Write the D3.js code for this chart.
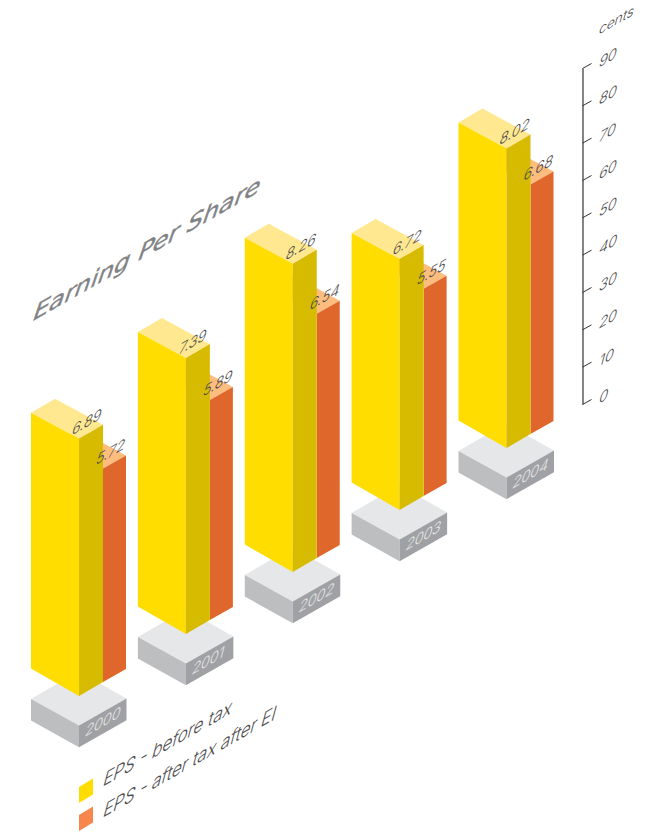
<!DOCTYPE html>
<html>
<head>
<meta charset="utf-8">
<script src="https://cdnjs.cloudflare.com/ajax/libs/d3/7.8.5/d3.min.js"></script>
<style>
  html, body { margin: 0; padding: 0; background: #fff; }
  svg { display: block; }
</style>
</head>
<body>
<div id="chart"></div>
<script>
// Earnings per share by year
const years = ["2000", "2001", "2002", "2003", "2004"];
const epsBeforeTax = [6.89, 7.39, 8.26, 6.72, 8.02];
const epsAfterTax = [5.72, 5.89, 6.54, 5.55, 6.68];
const axisTicks = [0, 10, 20, 30, 40, 50, 60, 70, 80, 90];
const legendLabels = ["EPS - before tax", "EPS - after tax after EI"];

const width = 668, height = 836;
const svg = d3.select("#chart").append("svg").attr("width", width).attr("height", height);

// Year positions run diagonally across the isometric floor
const frontX = d3.scalePoint().domain(years).range([79, 506.5]);
const frontY = d3.scalePoint().domain(years).range([696, 448]);
// Vertical scale is in cents; labelled values are in tens of cents
const yScale = d3.scaleLinear().domain([0, 90]).range([404, 68]);
const rise = cents => yScale(0) - yScale(cents);

const colors = {
  yellowFront: "#ffdd00", yellowSide: "#d7bb00", yellowTop: "#ffe88f",
  orangeSide: "#e0672c", orangeTop: "#fdbd7e", orangeKey: "#f6864b",
  plinthTop: "#e6e7e8", plinthLeft: "#bcbec0", plinthRight: "#a0a1a4",
  ink: "#4a4a4c", title: "#808285"
};

const poly = (g, pts, fill) => g.append("polygon")
  .attr("points", pts.map(p => p.join(",")).join(" ")).attr("fill", fill);

// Isometric text: baseline climbs to the right, uprights lean forward
const isoMatrix = (x, y, lean, stretch = 1) =>
  `matrix(${0.868 * stretch},${-0.496 * stretch},${-lean},0.97,${x},${y})`;
const isoText = (g, x, y, str, { size = 16.5, fill = colors.ink, lean = 0.26, stretch = 1, family = "Inter", weight = 300, stroke = 0 } = {}) =>
  g.append("text")
    .attr("transform", isoMatrix(x, y, lean, stretch))
    .attr("font-family", family).attr("font-weight", weight)
    .attr("font-size", size).attr("fill", fill)
    .attr("stroke", stroke ? fill : "none").attr("stroke-width", stroke)
    .text(str);

const depth = [-48, -27.5], topDepth = [-48, -26], sideA = [24, -14], sideB = [23, -13];

years.forEach((year, i) => {
  const g = svg.append("g");
  const x = frontX(year), y = frontY(year);

  // Plinth carrying the year
  const px = x, py = y + 29.5, ph = 21.7;
  poly(g, [[px, py], [px + 47.5, py - 27], [px - 0.5, py - 54], [px - 48, py - 26.6]], colors.plinthTop);
  poly(g, [[px - 48, py - 26.6], [px, py], [px, py + ph], [px - 48, py - 26.6 + ph]], colors.plinthLeft);
  poly(g, [[px, py], [px + 47.5, py - 27], [px + 47.5, py - 27 + ph], [px, py + ph]], colors.plinthRight);
  isoText(g, px + 5, py + ph - 10, year, { fill: colors.plinthTop });

  // After-tax column stands behind and to the right
  const ox = x + sideA[0], oy = y + sideA[1];
  const oh = rise(epsAfterTax[i] * 10);
  poly(g, [[ox, oy - oh], [ox + sideB[0], oy - oh + sideB[1]],
           [ox + sideB[0] + topDepth[0], oy - oh + sideB[1] + topDepth[1]], [ox + topDepth[0], oy - oh + topDepth[1]]], colors.orangeTop);
  poly(g, [[ox, oy], [ox + sideB[0], oy + sideB[1]], [ox + sideB[0], oy + sideB[1] - oh], [ox, oy - oh]], colors.orangeSide);

  // Before-tax column
  const yh = rise(epsBeforeTax[i] * 10);
  const t = y - yh;
  poly(g, [[x, t], [x + sideA[0], t + sideA[1]], [x + sideA[0] + topDepth[0], t + sideA[1] + topDepth[1]], [x + topDepth[0], t + topDepth[1]]], colors.yellowTop);
  poly(g, [[x + depth[0], y + depth[1]], [x, y], [x, t], [x + topDepth[0], t + topDepth[1]]], colors.yellowFront);
  poly(g, [[x, y], [x + sideA[0], y + sideA[1]], [x + sideA[0], t + sideA[1]], [x, t]], colors.yellowSide);

  // Value labels
  isoText(g, x - 8, t - 3, epsBeforeTax[i].toFixed(2));
  isoText(g, ox - 8, oy - oh - 3, epsAfterTax[i].toFixed(2));
});

// Value axis
const axisG = svg.append("g").attr("transform", "translate(582.5,0)")
  .call(d3.axisRight(yScale).tickValues(axisTicks).tickSize(9).tickSizeOuter(0).tickPadding(0));
axisG.select(".domain").attr("stroke", "#333").attr("stroke-width", 1.2);
axisG.selectAll(".tick line").attr("y2", -5).attr("stroke", "#333").attr("stroke-width", 1);
axisG.selectAll(".tick text")
  .attr("x", null).attr("y", null).attr("dy", null)
  .attr("transform", isoMatrix(15.5, -0.5, 0.26, 1))
  .attr("font-family", "Inter").attr("font-weight", 300)
  .attr("font-size", 16.5).attr("fill", colors.ink)
  .attr("text-anchor", "start");
isoText(svg, 598, 35, "cents", { size: 15.5, stretch: 1.02 });

// Title
isoText(svg, 31, 322, "Earning Per Share",
  { size: 26, fill: colors.title, lean: 0.33, stretch: 1.125, family: "DejaVu Sans", weight: 400, stroke: 0.5 });

// Legend
const keyColors = [colors.yellowFront, colors.orangeKey];
const keyTop = d3.scalePoint().domain(legendLabels).range([787, 815]);
legendLabels.forEach((label, i) => {
  const ky = keyTop(label);
  poly(svg, [[79, ky], [93, ky - 8.5], [93, ky + 7.5], [79, ky + 16]], keyColors[i]);
  isoText(svg, 102, ky + (i ? 3 : 0), label, { size: 21.5, stretch: 0.91 });
});
</script>
</body>
</html>
